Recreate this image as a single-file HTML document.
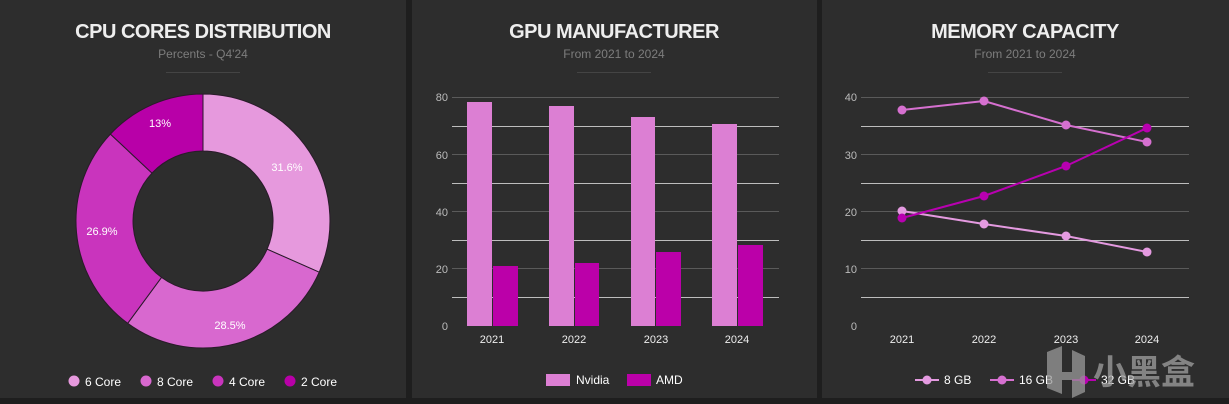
<!DOCTYPE html>
<html><head><meta charset="utf-8"><style>
html,body{margin:0;padding:0;background:#1e1e1e;}
svg{display:block;font-family:"Liberation Sans","Noto Sans CJK SC",sans-serif;}
</style></head><body>
<svg width="1229" height="404" viewBox="0 0 1229 404" xmlns="http://www.w3.org/2000/svg">
<rect width="1229" height="404" fill="#1e1e1e"/>
<rect x="0" y="0" width="406" height="398" fill="#2d2d2d"/>
<rect x="412" y="0" width="405" height="398" fill="#2d2d2d"/>
<rect x="822" y="0" width="407" height="398" fill="#2d2d2d"/>

<!-- Titles -->
<g font-weight="bold" font-size="20" fill="#eeeeee" text-anchor="middle" letter-spacing="-0.5">
<text x="203" y="38">CPU CORES DISTRIBUTION</text>
<text x="614" y="38">GPU MANUFACTURER</text>
<text x="1025" y="38">MEMORY CAPACITY</text>
</g>
<g font-size="12" fill="#7d7d7d" text-anchor="middle">
<text x="203" y="58">Percents - Q4'24</text>
<text x="614" y="58">From 2021 to 2024</text>
<text x="1025" y="58">From 2021 to 2024</text>
</g>
<g stroke="#444" stroke-width="1">
<line x1="166" y1="72.5" x2="240" y2="72.5"/>
<line x1="577" y1="72.5" x2="651" y2="72.5"/>
<line x1="988" y1="72.5" x2="1062" y2="72.5"/>
</g>

<!-- Donut -->
<g stroke="#2a1a2a" stroke-width="1">
<path d="M203,94 A127,127 0 0 1 319.2,272.2 L267.1,249.2 A70,70 0 0 0 203,151 Z" fill="#e699dd"/>
<path d="M319.2,272.2 A127,127 0 0 1 127.7,323.3 L161.5,277.4 A70,70 0 0 0 267.1,249.2 Z" fill="#d868cf"/>
<path d="M127.7,323.3 A127,127 0 0 1 110.4,134.1 L152,173.1 A70,70 0 0 0 161.5,277.4 Z" fill="#c934bd"/>
<path d="M110.4,134.1 A127,127 0 0 1 203,94 L203,151 A70,70 0 0 0 152,173.1 Z" fill="#b800a8"/>
</g>
<g font-size="11" fill="#fff" text-anchor="middle">
<text x="287" y="171">31.6%</text>
<text x="230" y="329">28.5%</text>
<text x="102" y="235">26.9%</text>
<text x="160" y="127">13%</text>
</g>
<g font-size="12" fill="#fff">
<circle cx="74" cy="381" r="5.5" fill="#e699dd"/><text x="85" y="386">6 Core</text>
<circle cx="146" cy="381" r="5.5" fill="#d868cf"/><text x="157" y="386">8 Core</text>
<circle cx="218" cy="381" r="5.5" fill="#c934bd"/><text x="229" y="386">4 Core</text>
<circle cx="290" cy="381" r="5.5" fill="#b800a8"/><text x="301" y="386">2 Core</text>
</g>

<!-- GPU bar chart -->
<g stroke-width="1">
<line x1="452" y1="97.5" x2="779" y2="97.5" stroke="#5a5a5a"/>
<line x1="452" y1="126.5" x2="779" y2="126.5" stroke="#bdbdbd"/>
<line x1="452" y1="154.5" x2="779" y2="154.5" stroke="#5a5a5a"/>
<line x1="452" y1="183.5" x2="779" y2="183.5" stroke="#bdbdbd"/>
<line x1="452" y1="211.5" x2="779" y2="211.5" stroke="#5a5a5a"/>
<line x1="452" y1="240.5" x2="779" y2="240.5" stroke="#bdbdbd"/>
<line x1="452" y1="268.5" x2="779" y2="268.5" stroke="#5a5a5a"/>
<line x1="452" y1="297.5" x2="779" y2="297.5" stroke="#bdbdbd"/>
</g>
<g fill="#dc7fd3">
<rect x="467" y="102" width="25" height="224"/>
<rect x="549" y="106" width="25" height="220"/>
<rect x="631" y="117" width="24" height="209"/>
<rect x="712" y="124" width="25" height="202"/>
</g>
<g fill="#bb00a9">
<rect x="493" y="266" width="25" height="60"/>
<rect x="575" y="263" width="24" height="63"/>
<rect x="656" y="252" width="25" height="74"/>
<rect x="738" y="245" width="25" height="81"/>
</g>
<g font-size="11" fill="#bbbbbb" text-anchor="end">
<text x="448" y="101">80</text>
<text x="448" y="159">60</text>
<text x="448" y="216">40</text>
<text x="448" y="273">20</text>
<text x="448" y="330">0</text>
</g>
<g font-size="11" fill="#eeeeee" text-anchor="middle">
<text x="492" y="343">2021</text>
<text x="574" y="343">2022</text>
<text x="656" y="343">2023</text>
<text x="737" y="343">2024</text>
</g>
<rect x="546" y="374" width="24" height="12" fill="#dc7fd3"/>
<text x="576" y="384" font-size="12" fill="#fff">Nvidia</text>
<rect x="627" y="374" width="24" height="12" fill="#bb00a9"/>
<text x="656" y="384" font-size="12" fill="#fff">AMD</text>

<!-- Memory line chart -->
<g stroke-width="1">
<line x1="861" y1="97.5" x2="1189" y2="97.5" stroke="#5a5a5a"/>
<line x1="861" y1="126.5" x2="1189" y2="126.5" stroke="#bdbdbd"/>
<line x1="861" y1="154.5" x2="1189" y2="154.5" stroke="#5a5a5a"/>
<line x1="861" y1="183.5" x2="1189" y2="183.5" stroke="#bdbdbd"/>
<line x1="861" y1="211.5" x2="1189" y2="211.5" stroke="#5a5a5a"/>
<line x1="861" y1="240.5" x2="1189" y2="240.5" stroke="#bdbdbd"/>
<line x1="861" y1="268.5" x2="1189" y2="268.5" stroke="#5a5a5a"/>
<line x1="861" y1="297.5" x2="1189" y2="297.5" stroke="#bdbdbd"/>
</g>
<g fill="none" stroke-width="2">
<polyline points="902,110 984,101 1066,125 1147,142" stroke="#d670d0"/>
<polyline points="902,211 984,224 1066,236 1147,252" stroke="#e49ae0"/>
<polyline points="902,218 984,196 1066,166 1147,128" stroke="#b800b0"/>
</g>
<g fill="#d670d0"><circle cx="902" cy="110" r="4.5"/><circle cx="984" cy="101" r="4.5"/><circle cx="1066" cy="125" r="4.5"/><circle cx="1147" cy="142" r="4.5"/></g>
<g fill="#e49ae0"><circle cx="902" cy="211" r="4.5"/><circle cx="984" cy="224" r="4.5"/><circle cx="1066" cy="236" r="4.5"/><circle cx="1147" cy="252" r="4.5"/></g>
<g fill="#b800b0"><circle cx="902" cy="218" r="4.5"/><circle cx="984" cy="196" r="4.5"/><circle cx="1066" cy="166" r="4.5"/><circle cx="1147" cy="128" r="4.5"/></g>
<g font-size="11" fill="#bbbbbb" text-anchor="end">
<text x="857" y="101">40</text>
<text x="857" y="159">30</text>
<text x="857" y="216">20</text>
<text x="857" y="273">10</text>
<text x="857" y="330">0</text>
</g>
<g font-size="11" fill="#eeeeee" text-anchor="middle">
<text x="902" y="343">2021</text>
<text x="984" y="343">2022</text>
<text x="1066" y="343">2023</text>
<text x="1147" y="343">2024</text>
</g>
<g font-size="12" fill="#fff">
<line x1="915" y1="380" x2="939" y2="380" stroke="#e49ae0" stroke-width="2"/><circle cx="927" cy="380" r="4.5" fill="#e49ae0"/><text x="944" y="384">8 GB</text>
<line x1="990" y1="380" x2="1014" y2="380" stroke="#d670d0" stroke-width="2"/><circle cx="1002" cy="380" r="4.5" fill="#d670d0"/><text x="1019" y="384">16 GB</text>
<line x1="1072" y1="380" x2="1096" y2="380" stroke="#b800b0" stroke-width="2"/><circle cx="1084" cy="380" r="4.5" fill="#b800b0"/><text x="1101" y="384">32 GB</text>
</g>
<!-- watermark -->
<g opacity="0.75">
<path d="M1047,352 L1062,346 L1062,372 L1072,372 L1072,350 L1085,356 L1085,392 L1072,398 L1072,380 L1062,380 L1062,394 L1047,388 Z" fill="#9a9a9a"/>
<text x="1093" y="384" font-size="34" font-weight="bold" fill="#a0a0a0" font-family="'Noto Sans CJK SC',sans-serif">小黑盒</text>
</g>
</svg>
</body></html>
